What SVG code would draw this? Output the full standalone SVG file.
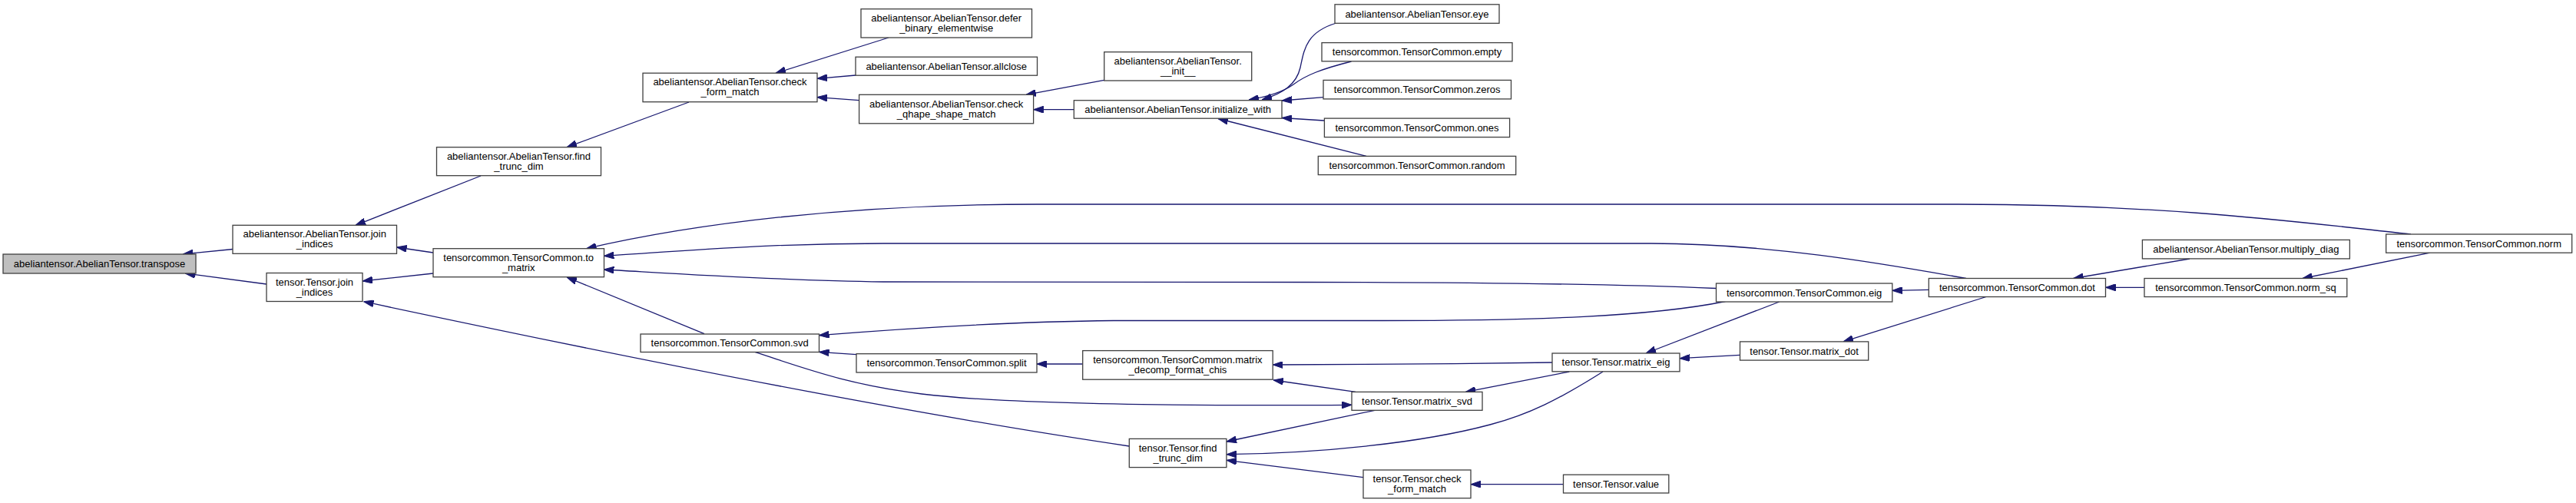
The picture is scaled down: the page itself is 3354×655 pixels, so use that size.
<svg xmlns="http://www.w3.org/2000/svg" width="3354" height="655" viewBox="0 0 3354 655">
<defs>
<style>
.node rect{fill:#ffffff;stroke:#404040;stroke-width:1.3}
.node.main rect{fill:#bfbfbf}
.node text{font-family:"Liberation Sans",Helvetica,Arial,sans-serif;font-size:13px;fill:#000000;text-anchor:middle}
.edges path{fill:none;stroke:#191970;stroke-width:1.3;marker-end:url(#arrow)}
</style>
<marker id="arrow" markerUnits="userSpaceOnUse" viewBox="0 0 13 9" refX="13" refY="4.5" markerWidth="13" markerHeight="9" orient="auto">
<path d="M0,0 L13,4.5 L0,9 z" fill="#191970" stroke="#191970" stroke-width="1"/>
</marker>
</defs>
<rect x="0" y="0" width="3354" height="655" fill="#ffffff"/>
<g id="edges" class="edges">
<path d="M303,324.5 L238,331"/>
<path d="M347,370 L241,356"/>
<path d="M626,229 L463,293.3"/>
<path d="M564,329 L516.5,322"/>
<path d="M564,356 L472,366"/>
<path d="M1470.3,581 C1300,556 1000,505 473.5,392.7"/>
<path d="M897,133 L738,191.7"/>
<path d="M1157,49 L1010,95.2"/>
<path d="M1114,98 L1064,102.3"/>
<path d="M1118.6,130.7 L1064,126.6"/>
<path d="M1437.7,104.3 L1336,123.3"/>
<path d="M1398.3,142.7 L1345.7,142.7"/>
<path d="M1740,30 C1700,42 1698,65 1693,88 C1688,110 1670,122 1643,130"/>
<path d="M1759.5,80 C1720,90 1700,98 1684,110 C1670,120 1650,126 1626,130"/>
<path d="M1723,126.7 L1669,131"/>
<path d="M1724,157 L1669,153.5"/>
<path d="M1779,203.4 L1586,154.5"/>
<path d="M3139,305 C3000,290 2820,266 2550,266 L1350,266 C1100,266 900,292 763.5,323.7"/>
<path d="M2560,362.5 C2450,343 2300,317 2150,317 L1150,317 C1000,317 900,326 786.4,333.3"/>
<path d="M2234.5,375.5 C2100,370 1900,367.5 1700,367.5 L1150,367 C1000,365 860,355 786.4,351"/>
<path d="M917,434.7 L738,361"/>
<path d="M2246.5,392.5 C2150,412 2000,417.5 1800,417.5 L1450,417.5 C1300,419 1150,430 1066.5,436.7"/>
<path d="M1115,461.7 L1066.5,458.3"/>
<path d="M982,458.2 C1050,480 1100,500 1200,513 C1300,525 1500,529 1760,527.3"/>
<path d="M1409.7,474 L1350,474"/>
<path d="M2021,472 C1900,474 1750,475 1657.3,475"/>
<path d="M1765,510.4 L1658,495"/>
<path d="M1790,534.3 L1597,575"/>
<path d="M2087,484 C2030,520 1990,540 1940,553 C1850,577 1720,590 1597,591.7"/>
<path d="M1775,621.7 L1597,599.3"/>
<path d="M2035.5,630.7 L1915,630.7"/>
<path d="M2043.3,484 L1908.3,510.4"/>
<path d="M2316.7,393 L2143,460"/>
<path d="M2265.5,462.3 L2187,466.7"/>
<path d="M2511.3,377.3 L2463.8,378.3"/>
<path d="M2586,386.5 L2400,444.9"/>
<path d="M2851,337 L2699.6,362.5"/>
<path d="M2792,374.3 L2741.5,374.3"/>
<path d="M3164,329.2 L2998,362.5"/>
</g>
<g id="node-transpose" class="node main"><rect x="4" y="331" width="251" height="25"/><text x="129.5" y="348">abeliantensor.AbelianTensor.transpose</text></g>
<g id="node-abelian-join-indices" class="node"><rect x="303" y="293.3" width="213.5" height="37"/><text x="409.7" y="309.3">abeliantensor.AbelianTensor.join</text><text x="409.7" y="322.3">_indices</text></g>
<g id="node-tensor-join-indices" class="node"><rect x="347" y="355.5" width="125" height="37"/><text x="409.5" y="371.5">tensor.Tensor.join</text><text x="409.5" y="384.5">_indices</text></g>
<g id="node-abelian-find-trunc-dim" class="node"><rect x="568.5" y="191.7" width="214" height="37"/><text x="675.5" y="207.7">abeliantensor.AbelianTensor.find</text><text x="675.5" y="220.7">_trunc_dim</text></g>
<g id="node-to-matrix" class="node"><rect x="564" y="323.7" width="222.5" height="37"/><text x="675.2" y="339.7">tensorcommon.TensorCommon.to</text><text x="675.2" y="352.7">_matrix</text></g>
<g id="node-check-form-match" class="node"><rect x="837" y="95.2" width="227" height="37.5"/><text x="950.5" y="111.4">abeliantensor.AbelianTensor.check</text><text x="950.5" y="124.4">_form_match</text></g>
<g id="node-svd" class="node"><rect x="834" y="435" width="232.5" height="23.5"/><text x="950.2" y="451.2">tensorcommon.TensorCommon.svd</text></g>
<g id="node-defer" class="node"><rect x="1121" y="11.7" width="222.5" height="37.3"/><text x="1232.2" y="27.8">abeliantensor.AbelianTensor.defer</text><text x="1232.2" y="40.8">_binary_elementwise</text></g>
<g id="node-allclose" class="node"><rect x="1114" y="74.2" width="236.5" height="24"/><text x="1232.2" y="90.7">abeliantensor.AbelianTensor.allclose</text></g>
<g id="node-check-qhape" class="node"><rect x="1118.6" y="123.3" width="227" height="37.5"/><text x="1232.1" y="139.5">abeliantensor.AbelianTensor.check</text><text x="1232.1" y="152.5">_qhape_shape_match</text></g>
<g id="node-init" class="node"><rect x="1437.7" y="67.7" width="192" height="37.3"/><text x="1533.7" y="83.8">abeliantensor.AbelianTensor.</text><text x="1533.7" y="96.8">__init__</text></g>
<g id="node-initialize-with" class="node"><rect x="1398.3" y="130.7" width="270.7" height="23.5"/><text x="1533.6" y="146.9">abeliantensor.AbelianTensor.initialize_with</text></g>
<g id="node-split" class="node"><rect x="1115" y="460.7" width="235" height="24.3"/><text x="1232.5" y="477.3">tensorcommon.TensorCommon.split</text></g>
<g id="node-matrix-decomp" class="node"><rect x="1409.7" y="456.6" width="247.5" height="37.6"/><text x="1533.4" y="472.9">tensorcommon.TensorCommon.matrix</text><text x="1533.4" y="485.9">_decomp_format_chis</text></g>
<g id="node-tensor-find-trunc-dim" class="node"><rect x="1470.3" y="571.4" width="126.6" height="37.2"/><text x="1533.6" y="587.5">tensor.Tensor.find</text><text x="1533.6" y="600.5">_trunc_dim</text></g>
<g id="node-eye" class="node"><rect x="1738" y="5.8" width="214" height="24.5"/><text x="1845" y="22.5">abeliantensor.AbelianTensor.eye</text></g>
<g id="node-empty" class="node"><rect x="1721" y="55.6" width="248" height="24.2"/><text x="1845" y="72.2">tensorcommon.TensorCommon.empty</text></g>
<g id="node-zeros" class="node"><rect x="1723" y="104.4" width="244.5" height="24.5"/><text x="1845.2" y="121.1">tensorcommon.TensorCommon.zeros</text></g>
<g id="node-ones" class="node"><rect x="1724.4" y="154.1" width="241.2" height="24.5"/><text x="1845" y="170.8">tensorcommon.TensorCommon.ones</text></g>
<g id="node-random" class="node"><rect x="1716.3" y="203.4" width="257.4" height="24.2"/><text x="1845" y="220">tensorcommon.TensorCommon.random</text></g>
<g id="node-matrix-eig" class="node"><rect x="2021" y="460" width="166" height="23.8"/><text x="2104" y="476.4">tensor.Tensor.matrix_eig</text></g>
<g id="node-matrix-svd" class="node"><rect x="1760" y="510.4" width="170" height="23.9"/><text x="1845" y="526.8">tensor.Tensor.matrix_svd</text></g>
<g id="node-tensor-check-form-match" class="node"><rect x="1775" y="612" width="140" height="36.7"/><text x="1845" y="627.8">tensor.Tensor.check</text><text x="1845" y="640.8">_form_match</text></g>
<g id="node-value" class="node"><rect x="2035.5" y="618.2" width="137.3" height="23.8"/><text x="2104.1" y="634.6">tensor.Tensor.value</text></g>
<g id="node-eig" class="node"><rect x="2234.5" y="369" width="229.3" height="24"/><text x="2349.1" y="385.5">tensorcommon.TensorCommon.eig</text></g>
<g id="node-dot" class="node"><rect x="2511.3" y="362.5" width="230.2" height="24"/><text x="2626.4" y="379">tensorcommon.TensorCommon.dot</text></g>
<g id="node-matrix-dot" class="node"><rect x="2265.5" y="444.9" width="167.2" height="24.2"/><text x="2349.1" y="461.5">tensor.Tensor.matrix_dot</text></g>
<g id="node-multiply-diag" class="node"><rect x="2789.4" y="312.4" width="270" height="24.5"/><text x="2924.4" y="329.1">abeliantensor.AbelianTensor.multiply_diag</text></g>
<g id="node-norm-sq" class="node"><rect x="2792" y="362.5" width="263.8" height="24"/><text x="2923.9" y="379">tensorcommon.TensorCommon.norm_sq</text></g>
<g id="node-norm" class="node"><rect x="3106.7" y="305" width="242" height="24.2"/><text x="3227.7" y="321.6">tensorcommon.TensorCommon.norm</text></g>
</svg>
